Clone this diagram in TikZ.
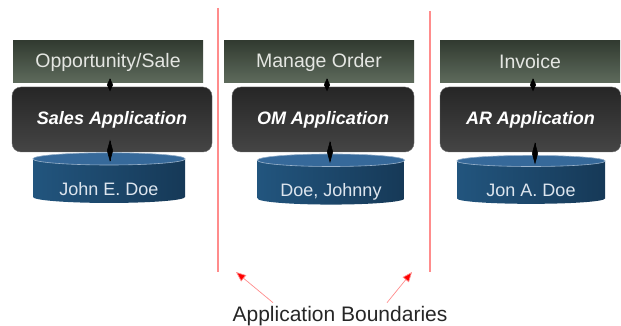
\documentclass[tikz,border=0pt]{standalone}
\usepackage{fontspec}
\setmainfont{Liberation Sans}
\usetikzlibrary{calc}
\usetikzlibrary{arrows.meta}
\usetikzlibrary{shapes.geometric}

\definecolor{procdark}{HTML}{323B31}
\definecolor{proclight}{HTML}{5E6B5C}
\definecolor{proctext}{HTML}{E4E6E2}
\definecolor{appdark}{HTML}{262626}
\definecolor{applight}{HTML}{454545}
\definecolor{dbleft}{HTML}{22557E}
\definecolor{dbmid}{HTML}{3C76A2}
\definecolor{dbright}{HTML}{163957}
\definecolor{dbcap}{HTML}{36699A}
\definecolor{dbtext}{HTML}{DDE5EE}
\definecolor{bndred}{HTML}{FF8C8C}

\tikzset{
    process/.style={rectangle, inner sep=0pt, minimum height=42pt,
        top color=procdark, bottom color=proclight, text=proctext,
        font=\fontsize{19.5}{22}\selectfont},
    app/.style={rectangle, rounded corners=9pt, inner sep=0pt, minimum height=65pt,
        top color=appdark, bottom color=applight, draw=applight!80!white,
        text=white, font=\fontsize{18}{20}\selectfont\bfseries\itshape},
    store/.style={cylinder, shape border rotate=90, aspect=0.12, inner sep=0pt,
        minimum height=47pt, text height=30pt, text depth=2pt,
        left color=dbleft, middle color=dbmid, right color=dbright,
        text=dbtext, font=\fontsize{18}{20}\selectfont},
    storecap/.style={fill=dbcap, draw=dbtext!60!dbcap, line width=0.6pt},
    joint/.style={-{Diamond[length=#1,width=6pt]}, line width=0.5pt,
        shorten <=2pt-0.5*#1, shorten >=2pt-0.5*#1},
    boundary/.style={draw=bndred, line width=1.2pt},
    pointer/.style={draw=bndred, line width=0.7pt, -{Triangle[length=10pt,width=8pt,fill=red]}}
}

\begin{document}
\begin{tikzpicture}[x=1pt,y=1pt]
                \useasboundingbox (0,0) rectangle (621,-326);

                % application boundaries
                \draw[boundary] (218,-8) -- (218,-272);
                \draw[boundary] (430,-11) -- (430,-272);

                % sales
                \node[process, minimum width=190pt] (opp) at (108,-62) {Opportunity/Sale};
                \node[app, minimum width=200pt] (sales) at (112,-119.5) {Sales Application};
                \node[store, minimum width=152pt] (db1) at (109,-181) {John E. Doe};

                % order management
                \node[process, minimum width=190pt] (order) at (319,-62) {Manage Order};
                \node[app, minimum width=182pt] (om) at (323,-119.5) {OM Application};
                \node[store, minimum width=147pt] (db2) at (331,-182.5) {Doe, Johnny};

                % receivables
                \node[process, minimum width=180pt] (inv) at (530,-62) {Invoice};
                \node[app, minimum width=181pt] (ar) at (530.5,-119.5) {AR Application};
                \node[store, minimum width=148pt] (db3) at (531,-182.5) {Jon A. Doe};

                \foreach \db in {db1,db2,db3}
                    \path[storecap] let \p1=(\db.before top), \p2=(\db.after top), \p3=(\db.top)
                        in ($(\p1)!0.5!(\p2)$) ellipse ({0.5*abs(\x2-\x1)} and {\y3-\y1});

                \draw[joint=13pt] (opp.south -| 110,0) -- (sales.north -| 110,0);
                \draw[joint=13pt] (order.south -| 327,0) -- (om.north -| 327,0);
                \draw[joint=13pt] (inv.south -| 533,0) -- (ar.north -| 533,0);
                \draw[joint=22pt] (sales.south -| 110,0) -- (db1.top -| 110,0);
                \draw[joint=22pt] (om.south -| 330,0) -- (db2.top -| 330,0);
                \draw[joint=22pt] (ar.south -| 535,0) -- (db3.top -| 535,0);

                \node[font=\fontsize{21}{24}\selectfont, text=black!85] (bnd) at (340,-316) {Application Boundaries};
                \coordinate (lefthead) at (236,-272);
                \coordinate (righthead) at (412,-272);
                \draw[pointer] (bnd.north -| 273,0) -- (lefthead);
                \draw[pointer] (bnd.north -| 387,0) -- (righthead);
\end{tikzpicture}
\end{document}
